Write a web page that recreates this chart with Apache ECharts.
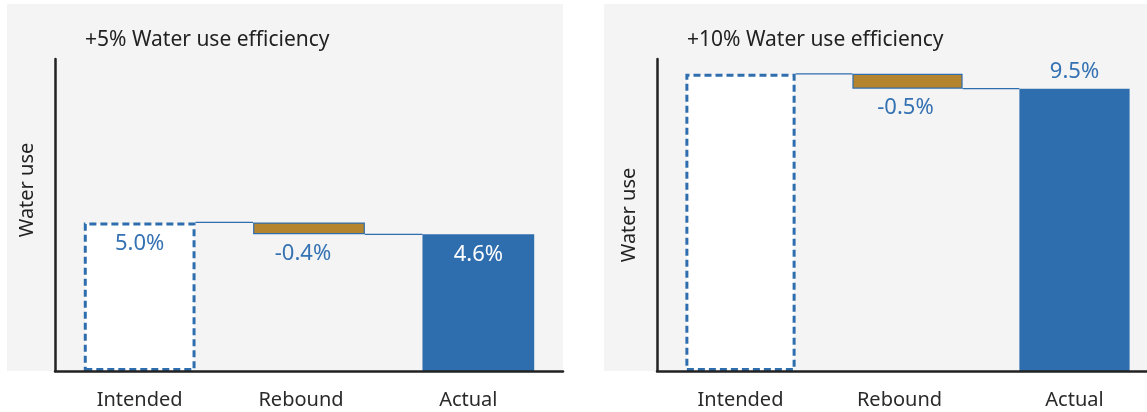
<!DOCTYPE html>
<html>
<head>
<meta charset="utf-8">
<style>
  html, body { margin: 0; padding: 0; background: #ffffff; }
  #chart { width: 1147px; height: 412px; }
</style>
<script src="https://cdn.jsdelivr.net/npm/echarts@6/dist/echarts.min.js"></script>
</head>
<body>
<div id="chart"></div>
<script>
// Waterfall of intended saving, rebound and actual saving for two efficiency scenarios
const categories = ['Intended', 'Rebound', 'Actual'];
const panelTitles = ['+5% Water use efficiency', '+10% Water use efficiency'];
const intended = [5.0, 10.0];
const rebound = [-0.4, -0.5];
const actual = [4.6, 9.5];
const showIntendedLabel = [true, false];
const yAxisName = 'Water use';
const yMax = 10.5;

const FONT = '"Noto Sans", "Open Sans", sans-serif';
const BLUE = '#2f6eae';
const LABEL_BLUE = '#3472b3';
const GOLD = '#b5842f';
const INK = '#222222';

const pct = v => v.toFixed(1) + '%';

// Layout of the two panels (grey cards and plot grids)
const panels = [
  { card: { x: 7, y: 4, width: 556, height: 367 },
    grid: { left: 55, right: 584, top: 59, bottom: 41, outerBoundsMode: 'none' },
    titleLeft: 85, nameGap: 18, namePad: [0, 0, 0, 50],
    actualLabel: { position: 'insideTop', distance: 9, color: '#ffffff' },
    reboundOffset: [-6, 0],
    catPad: [[0, 0, 0, 0], [0, 16, 0, 0], [0, 20, 0, 0]] },
  { card: { x: 604, y: 4, width: 543, height: 367 },
    grid: { left: 657, right: -11, top: 59, bottom: 41, outerBoundsMode: 'none' },
    titleLeft: 687, nameGap: 18, namePad: [0, 0, 0, 0],
    actualLabel: { position: 'top', distance: 6, color: LABEL_BLUE },
    reboundOffset: [-2, 0],
    catPad: [[0, 0, 0, 0], [0, 16, 0, 0], [0, 0, 0, 0]] }
];

const BAR_RATIO = 0.66;

const catRich = pads => ({
  c0: { fontFamily: FONT, fontSize: 20, color: '#2a2a2a', padding: pads[0] },
  c1: { fontFamily: FONT, fontSize: 20, color: '#2a2a2a', padding: pads[1] },
  c2: { fontFamily: FONT, fontSize: 20, color: '#2a2a2a', padding: pads[2] }
});

const option = {
  animation: false,
  backgroundColor: '#ffffff',
  graphic: panels.map(p => ({
    type: 'rect', z: -10, silent: true,
    shape: p.card, style: { fill: '#f4f4f4' }
  })),
  title: panels.map((p, i) => ({
    text: panelTitles[i], left: p.titleLeft, top: 30, padding: 0,
    textStyle: { fontFamily: FONT, fontSize: 21, fontWeight: 'normal', color: INK }
  })),
  grid: panels.map(p => p.grid),
  xAxis: panels.map((p, i) => ({
    type: 'category', gridIndex: i, data: categories,
    axisLine: { lineStyle: { color: INK, width: 2.5 } },
    axisTick: { show: false },
    axisLabel: {
      interval: 0, hideOverlap: false,
      margin: 19, fontFamily: FONT, fontSize: 20, color: '#2a2a2a',
      formatter: (v, k) => '{c' + k + '|' + v + '}',
      rich: catRich(p.catPad)
    },
    z: 5
  })),
  yAxis: panels.map((p, i) => ({
    type: 'value', gridIndex: i, min: 0, max: yMax,
    name: yAxisName, nameLocation: 'middle', nameGap: p.nameGap,
    nameTextStyle: { fontFamily: FONT, fontSize: 20, color: INK, padding: p.namePad },
    axisLine: { show: true, lineStyle: { color: INK, width: 2.5 } },
    axisTick: { show: false }, axisLabel: { show: false }, splitLine: { show: false }
  })),
  series: []
};

panels.forEach((p, i) => {
  const base = intended[i] + rebound[i];
  // intended saving: dashed outline box
  option.series.push({
    type: 'bar', xAxisIndex: i, yAxisIndex: i, stack: 's' + i, barWidth: (BAR_RATIO * 100) + '%',
    data: [
      { value: intended[i], label: { show: showIntendedLabel[i] } },
      { value: base, itemStyle: { color: 'transparent', borderWidth: 0 }, label: { show: false } },
      { value: actual[i], itemStyle: { color: BLUE, borderWidth: 0 },
        label: Object.assign({ show: true }, p.actualLabel) }
    ],
    itemStyle: { color: '#ffffff', borderColor: BLUE, borderWidth: 3, borderType: [7, 4] },
    label: {
      position: 'insideTop', distance: 10, color: LABEL_BLUE,
      fontFamily: FONT, fontSize: 22, formatter: d => pct(d.value)
    },
    z: 2
  });
  // rebound: gold segment stacked on the actual level
  option.series.push({
    type: 'bar', xAxisIndex: i, yAxisIndex: i, stack: 's' + i, barWidth: (BAR_RATIO * 100) + '%',
    data: ['-', -rebound[i], '-'],
    itemStyle: { color: GOLD, borderColor: BLUE, borderWidth: 1.2 },
    label: {
      show: true, position: 'bottom', distance: 8, offset: p.reboundOffset, color: LABEL_BLUE,
      fontFamily: FONT, fontSize: 22, formatter: () => pct(rebound[i])
    },
    z: 3
  });
  // connector lines between consecutive bars
  option.series.push({
    type: 'custom', xAxisIndex: i, yAxisIndex: i, z: 4,
    data: [[0, intended[i]], [1, actual[i]]],
    renderItem: (params, api) => {
      const k = api.value(0);
      const level = api.value(1);
      const band = api.size([1, 0])[0];
      const half = band * BAR_RATIO / 2;
      const a = api.coord([k, level]);
      const b = api.coord([k + 1, level]);
      return {
        type: 'line',
        shape: { x1: a[0] + half, y1: a[1], x2: b[0] - half, y2: b[1] },
        style: { stroke: BLUE, lineWidth: 1.3 }
      };
    }
  });
});

const chart = echarts.init(document.getElementById('chart'), null, { renderer: 'canvas' });
chart.setOption(option);
</script>
</body>
</html>
